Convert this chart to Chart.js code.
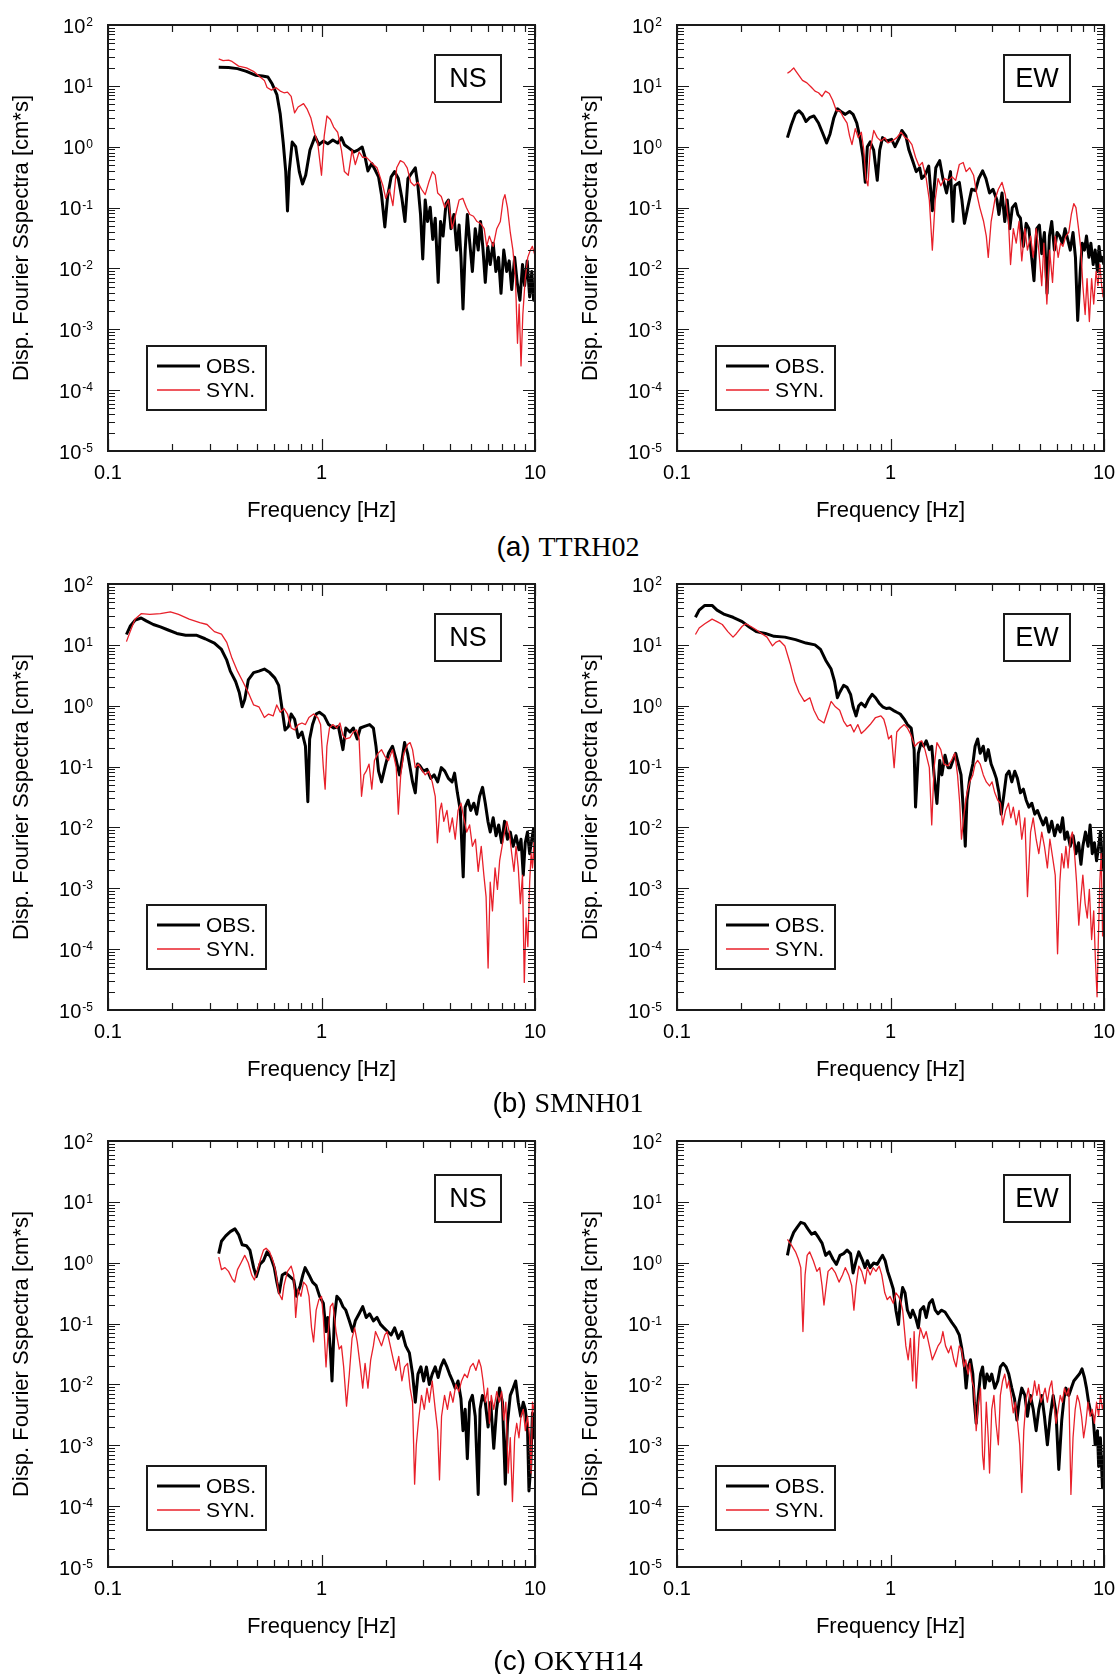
<!DOCTYPE html>
<html>
<head>
<meta charset="utf-8">
<script src="https://cdn.jsdelivr.net/npm/chart.js@4.4.1/dist/chart.umd.min.js"></script>
<style>
  html, body { margin: 0; background: #fff; }
  body { width: 1117px; height: 1674px; position: relative; overflow: hidden; }
  canvas { position: absolute; }
  .cap { position: absolute; left: 0; width: 1136px; text-align: center; font-size: 28px; line-height: 32px; color: #000; white-space: pre; }
  .cap .lbl { font-family: "Liberation Sans", Arial, sans-serif; }
  .cap .stn { font-family: "Liberation Serif", "Times New Roman", serif; }
</style>
</head>
<body>
<script>
// axis ticks and labels
const xTickValues = [0.1, 1, 10];
const xTickLabels = ['0.1', '1', '10'];
const yTickValues = [1e-5, 1e-4, 1e-3, 1e-2, 1e-1, 1, 10, 100];
const yTickBase = '10';
const yTickExponents = ['-5', '-4', '-3', '-2', '-1', '0', '1', '2'];
const stations = ['TTRH02', 'SMNH01', 'OKYH14'];
const captionTags = ['(a)', '(b)', '(c)'];
const components = ['NS', 'EW'];
const seriesNames = ['OBS.', 'SYN.'];

// [frequency Hz, amplitude cm*s]
const ttrh02NsObs = [[0.33,20.3],[0.367,20],[0.404,19.2],[0.445,17.3],[0.49,15],[0.529,14.5],[0.561,14],[0.588,10.7],[0.618,7.2],[0.641,3.4],[0.662,1.15],[0.68,0.39],[0.693,0.088],[0.706,0.39],[0.729,1.19],[0.757,1.0],[0.787,0.39],[0.815,0.244],[0.843,0.34],[0.883,0.88],[0.933,1.47],[0.973,1.08],[1.02,1.24],[1.07,1.12],[1.13,1.29],[1.19,1.15],[1.24,1.41],[1.28,1.08],[1.35,0.94],[1.42,0.82],[1.48,0.88],[1.55,0.99],[1.6,0.67],[1.65,0.4],[1.72,0.53],[1.78,0.42],[1.85,0.32],[1.91,0.163],[1.98,0.048],[2.04,0.152],[2.12,0.32],[2.2,0.39],[2.29,0.3],[2.38,0.142],[2.46,0.059],[2.54,0.3],[2.64,0.366],[2.75,0.45],[2.83,0.228],[2.91,0.077],[2.98,0.0143],[3.06,0.133],[3.14,0.059],[3.23,0.101],[3.32,0.03],[3.41,0.067],[3.52,0.0059],[3.61,0.059],[3.71,0.034],[3.83,0.116],[3.93,0.133],[4.04,0.045],[4.17,0.077],[4.3,0.02],[4.41,0.0515],[4.5,0.0152],[4.6,0.00215],[4.71,0.02],[4.82,0.077],[4.95,0.026],[5.09,0.0089],[5.25,0.045],[5.42,0.02],[5.56,0.059],[5.71,0.02],[5.85,0.0059],[6.01,0.023],[6.17,0.0116],[6.37,0.026],[6.56,0.0089],[6.75,0.0152],[6.93,0.0039],[7.14,0.02],[7.37,0.0089],[7.57,0.0133],[7.78,0.0045],[8.03,0.0152],[8.25,0.0059],[8.5,0.003],[8.74,0.0116],[8.94,0.0052],[9.19,0.0133],[9.44,0.0034],[9.66,0.0089],[9.85,0.003],[10,0.0059]];
const ttrh02NsSyn = [[0.33,27.7],[0.346,25.9],[0.367,26.5],[0.381,25.2],[0.409,21.1],[0.445,19.7],[0.48,17.3],[0.508,14.7],[0.54,12.3],[0.556,9.4],[0.583,8.5],[0.611,9.4],[0.641,8.2],[0.667,7.7],[0.693,7.9],[0.721,6.7],[0.748,3.6],[0.777,4.5],[0.824,5.1],[0.855,4.2],[0.891,3.0],[0.925,1.73],[0.96,1.15],[1.0,0.34],[1.03,1.51],[1.06,3.2],[1.1,2.8],[1.14,2.1],[1.19,1.73],[1.24,0.88],[1.28,0.39],[1.335,0.34],[1.39,0.88],[1.44,0.51],[1.5,0.82],[1.56,0.67],[1.62,0.67],[1.68,0.59],[1.75,0.51],[1.82,0.45],[1.89,0.3],[1.94,0.228],[2.0,0.142],[2.08,0.2],[2.16,0.108],[2.25,0.45],[2.34,0.59],[2.43,0.55],[2.52,0.45],[2.62,0.26],[2.72,0.228],[2.83,0.26],[2.94,0.2],[3.06,0.163],[3.18,0.26],[3.31,0.39],[3.41,0.34],[3.5,0.174],[3.64,0.152],[3.78,0.1],[3.93,0.133],[4.09,0.045],[4.25,0.077],[4.41,0.133],[4.59,0.142],[4.77,0.1],[4.95,0.077],[5.15,0.072],[5.35,0.059],[5.56,0.055],[5.78,0.045],[5.94,0.023],[6.11,0.034],[6.37,0.023],[6.62,0.045],[6.88,0.059],[7.09,0.133],[7.23,0.163],[7.43,0.1],[7.66,0.039],[7.88,0.02],[8.1,0.0068],[8.28,0.00059],[8.43,0.0026],[8.6,0.00025],[8.77,0.00175],[9.0,0.0068],[9.25,0.0152],[9.51,0.02],[9.72,0.023],[10,0.0163]];
const ttrh02EwObs = [[0.329,1.41],[0.343,2.27],[0.359,3.5],[0.373,3.9],[0.387,3.4],[0.402,2.6],[0.418,3.0],[0.438,3.2],[0.46,2.45],[0.483,1.62],[0.502,1.15],[0.521,1.62],[0.543,3.0],[0.564,4.2],[0.591,3.7],[0.614,3.4],[0.643,3.8],[0.668,3.4],[0.695,2.45],[0.722,1.32],[0.744,0.67],[0.762,0.26],[0.779,1.0],[0.803,1.2],[0.834,0.88],[0.867,0.28],[0.89,0.88],[0.918,1.41],[0.962,1.24],[1.012,1.32],[1.05,1.0],[1.1,1.41],[1.13,1.85],[1.18,1.51],[1.22,0.88],[1.27,0.59],[1.32,0.39],[1.37,0.45],[1.4,0.3],[1.45,0.34],[1.51,0.48],[1.57,0.089],[1.63,0.45],[1.7,0.59],[1.76,0.3],[1.83,0.174],[1.91,0.39],[1.96,0.059],[2.0,0.228],[2.1,0.26],[2.16,0.133],[2.22,0.055],[2.3,0.1],[2.4,0.2],[2.5,0.19],[2.59,0.3],[2.7,0.4],[2.8,0.3],[2.91,0.174],[3.02,0.2],[3.15,0.133],[3.22,0.077],[3.33,0.174],[3.43,0.059],[3.52,0.133],[3.62,0.045],[3.72,0.1],[3.85,0.116],[3.95,0.077],[4.06,0.067],[4.19,0.023],[4.32,0.055],[4.45,0.045],[4.55,0.02],[4.7,0.0063],[4.84,0.045],[4.98,0.0515],[5.11,0.0175],[5.26,0.039],[5.41,0.0039],[5.55,0.034],[5.69,0.059],[5.86,0.02],[6.03,0.039],[6.2,0.034],[6.38,0.026],[6.57,0.045],[6.76,0.03],[6.95,0.02],[7.16,0.039],[7.35,0.0152],[7.53,0.0014],[7.74,0.0089],[7.91,0.026],[8.1,0.02],[8.28,0.034],[8.5,0.0152],[8.68,0.026],[8.9,0.0116],[9.09,0.02],[9.32,0.0089],[9.48,0.023],[9.66,0.0133],[9.8,0.0152],[10,0.0116]];
const ttrh02EwSyn = [[0.329,16.1],[0.339,17.3],[0.352,19.7],[0.361,17.3],[0.373,14.7],[0.387,12.3],[0.406,11.2],[0.427,9.4],[0.443,8.2],[0.46,7.7],[0.478,6.7],[0.496,8.2],[0.517,7.5],[0.536,5.8],[0.558,3.9],[0.58,3.9],[0.603,3.0],[0.626,2.45],[0.643,1.51],[0.66,1.08],[0.684,1.98],[0.706,1.41],[0.73,1.73],[0.75,0.88],[0.767,0.3],[0.784,0.228],[0.803,0.88],[0.835,1.85],[0.867,1.41],[0.902,1.24],[0.94,1.41],[0.973,1.15],[1.02,1.24],[1.07,1.41],[1.12,1.73],[1.17,1.41],[1.21,1.32],[1.26,1.08],[1.31,0.67],[1.36,0.48],[1.41,0.55],[1.47,0.3],[1.52,0.133],[1.57,0.02],[1.62,0.133],[1.67,0.3],[1.72,0.228],[1.79,0.3],[1.87,0.28],[1.94,0.32],[2.02,0.28],[2.1,0.51],[2.19,0.55],[2.26,0.39],[2.35,0.45],[2.45,0.34],[2.53,0.174],[2.62,0.1],[2.73,0.059],[2.81,0.034],[2.87,0.0152],[2.96,0.059],[3.08,0.133],[3.2,0.2],[3.33,0.26],[3.45,0.163],[3.57,0.059],[3.65,0.0116],[3.76,0.045],[3.88,0.026],[4.0,0.059],[4.12,0.0133],[4.26,0.045],[4.38,0.02],[4.53,0.034],[4.66,0.0152],[4.81,0.045],[4.95,0.02],[5.11,0.0052],[5.23,0.026],[5.4,0.0026],[5.56,0.02],[5.74,0.0059],[5.91,0.034],[6.1,0.0152],[6.26,0.026],[6.42,0.023],[6.63,0.034],[6.84,0.039],[7.03,0.077],[7.22,0.116],[7.39,0.1],[7.6,0.045],[7.8,0.02],[7.96,0.0052],[8.16,0.00175],[8.33,0.0068],[8.54,0.00134],[8.75,0.0068],[8.95,0.0026],[9.18,0.0089],[9.37,0.0052],[9.56,0.0116],[9.75,0.0052],[9.9,0.0034],[10,0.0059]];

const smnh01NsObs = [[0.122,14.8],[0.127,20.2],[0.134,25.5],[0.143,27.6],[0.151,24.8],[0.163,21.6],[0.176,19.7],[0.19,17.7],[0.21,15.4],[0.231,14.4],[0.259,14.4],[0.285,12.6],[0.315,10.7],[0.34,8.4],[0.36,5.6],[0.374,3.7],[0.396,2.5],[0.412,1.65],[0.425,0.96],[0.437,1.26],[0.454,2.65],[0.481,3.5],[0.509,3.7],[0.54,4.0],[0.572,3.5],[0.605,2.84],[0.63,2.16],[0.655,0.84],[0.675,0.4],[0.7,0.456],[0.721,0.73],[0.748,0.6],[0.778,0.3],[0.81,0.37],[0.841,0.216],[0.863,0.0265],[0.88,0.284],[0.908,0.49],[0.944,0.73],[0.977,0.78],[1.03,0.68],[1.08,0.49],[1.14,0.43],[1.2,0.456],[1.26,0.19],[1.3,0.43],[1.36,0.37],[1.41,0.43],[1.47,0.284],[1.52,0.43],[1.59,0.456],[1.68,0.49],[1.75,0.43],[1.8,0.216],[1.85,0.084],[1.91,0.056],[1.99,0.103],[2.06,0.165],[2.15,0.216],[2.24,0.126],[2.32,0.073],[2.38,0.126],[2.45,0.248],[2.53,0.165],[2.6,0.096],[2.67,0.056],[2.75,0.037],[2.82,0.11],[2.89,0.103],[3.0,0.084],[3.12,0.09],[3.25,0.064],[3.37,0.073],[3.5,0.056],[3.64,0.096],[3.78,0.084],[3.93,0.064],[4.09,0.056],[4.2,0.078],[4.33,0.037],[4.47,0.019],[4.61,0.00154],[4.71,0.0216],[4.86,0.028],[5.0,0.019],[5.17,0.025],[5.33,0.0165],[5.5,0.0325],[5.68,0.0456],[5.85,0.025],[6.02,0.0126],[6.17,0.0084],[6.37,0.0144],[6.57,0.0073],[6.76,0.011],[6.98,0.0056],[7.2,0.0126],[7.43,0.0064],[7.66,0.0084],[7.9,0.0049],[8.15,0.0073],[8.41,0.0043],[8.6,0.0064],[8.81,0.00165],[9.0,0.0056],[9.22,0.0084],[9.44,0.0037],[9.66,0.0064],[9.85,0.0096],[10,0.0056]];
const smnh01NsSyn = [[0.122,11.3],[0.127,16.5],[0.134,26.5],[0.143,32.5],[0.157,31.6],[0.176,32.5],[0.196,34.8],[0.214,31.6],[0.24,26.5],[0.269,23.2],[0.291,21.6],[0.315,16.5],[0.34,15],[0.36,11],[0.381,6.0],[0.404,3.7],[0.428,2.5],[0.454,1.65],[0.481,1.03],[0.509,0.96],[0.54,0.64],[0.565,0.73],[0.594,0.68],[0.617,1.03],[0.641,0.78],[0.667,0.9],[0.693,0.73],[0.721,0.43],[0.748,0.4],[0.778,0.49],[0.81,0.52],[0.841,0.49],[0.873,0.64],[0.918,0.73],[0.96,0.64],[0.99,0.49],[1.02,0.096],[1.04,0.0426],[1.06,0.216],[1.09,0.43],[1.13,0.49],[1.18,0.43],[1.22,0.52],[1.26,0.325],[1.3,0.284],[1.36,0.3],[1.41,0.37],[1.46,0.4],[1.5,0.284],[1.54,0.0325],[1.58,0.073],[1.62,0.084],[1.67,0.11],[1.72,0.0426],[1.77,0.126],[1.84,0.165],[1.91,0.19],[1.99,0.144],[2.06,0.126],[2.15,0.19],[2.24,0.096],[2.29,0.0165],[2.35,0.073],[2.43,0.165],[2.53,0.23],[2.6,0.248],[2.67,0.19],[2.75,0.096],[2.84,0.11],[2.94,0.09],[3.06,0.073],[3.18,0.084],[3.3,0.056],[3.41,0.0325],[3.49,0.0056],[3.58,0.019],[3.65,0.025],[3.74,0.0126],[3.87,0.019],[3.98,0.0084],[4.1,0.0144],[4.23,0.0064],[4.36,0.019],[4.5,0.025],[4.64,0.0144],[4.79,0.0084],[4.94,0.011],[5.09,0.0049],[5.26,0.0064],[5.42,0.0019],[5.6,0.0049],[5.76,0.00165],[5.9,0.00073],[6.03,0.0000488],[6.17,0.00126],[6.32,0.000426],[6.5,0.00216],[6.67,0.00096],[6.83,0.00284],[7.01,0.0049],[7.2,0.0084],[7.38,0.0126],[7.58,0.0084],[7.78,0.0037],[7.97,0.0019],[8.15,0.0049],[8.35,0.00216],[8.54,0.00056],[8.74,0.00165],[8.91,0.0000284],[9.08,0.000325],[9.26,0.00011],[9.44,0.00126],[9.59,0.0037],[9.73,0.00216],[9.88,0.0056],[10,0.00144]];
const smnh01EwObs = [[0.122,28.4],[0.127,37.2],[0.135,44.4],[0.146,44.4],[0.154,37.2],[0.167,31.6],[0.183,28.4],[0.202,24.1],[0.218,19.7],[0.235,16.5],[0.259,15.4],[0.285,13.8],[0.32,13.4],[0.359,12.2],[0.402,10.7],[0.443,10],[0.47,8.4],[0.497,5.6],[0.527,4.0],[0.547,2.5],[0.564,1.35],[0.578,1.65],[0.603,2.16],[0.626,2.0],[0.65,1.54],[0.668,0.96],[0.69,0.68],[0.71,1.0],[0.73,1.1],[0.76,0.96],[0.789,1.26],[0.82,1.54],[0.851,1.35],[0.885,1.1],[0.919,0.96],[0.955,0.9],[0.99,0.92],[1.03,0.84],[1.07,0.78],[1.11,0.73],[1.16,0.6],[1.2,0.49],[1.25,0.43],[1.29,0.19],[1.31,0.0216],[1.35,0.165],[1.39,0.248],[1.43,0.216],[1.47,0.265],[1.52,0.19],[1.56,0.216],[1.6,0.073],[1.65,0.0248],[1.7,0.126],[1.74,0.073],[1.8,0.154],[1.86,0.096],[1.91,0.096],[1.96,0.126],[2.02,0.165],[2.08,0.11],[2.14,0.073],[2.2,0.0165],[2.24,0.0049],[2.28,0.028],[2.35,0.064],[2.43,0.11],[2.49,0.216],[2.56,0.284],[2.63,0.165],[2.72,0.216],[2.79,0.126],[2.87,0.19],[2.96,0.11],[3.05,0.084],[3.13,0.064],[3.22,0.037],[3.3,0.0165],[3.39,0.0325],[3.49,0.073],[3.59,0.084],[3.7,0.056],[3.82,0.084],[3.93,0.064],[4.06,0.037],[4.19,0.0426],[4.32,0.028],[4.45,0.0216],[4.59,0.025],[4.74,0.0165],[4.88,0.019],[5.03,0.0144],[5.19,0.011],[5.35,0.0144],[5.52,0.0084],[5.69,0.0126],[5.87,0.0073],[6.06,0.011],[6.24,0.0084],[6.4,0.0144],[6.56,0.0064],[6.73,0.0084],[6.95,0.0049],[7.17,0.0073],[7.39,0.0037],[7.6,0.0056],[7.8,0.00248],[7.96,0.0049],[8.19,0.0084],[8.42,0.0049],[8.61,0.011],[8.81,0.0037],[9.02,0.0056],[9.23,0.00284],[9.44,0.0049],[9.62,0.0084],[9.8,0.00325],[10,0.0019]];
const smnh01EwSyn = [[0.122,14.8],[0.127,18.9],[0.135,22.2],[0.146,26.5],[0.154,24.1],[0.163,21.6],[0.173,16.5],[0.183,13.4],[0.19,15.4],[0.202,20.2],[0.21,22.2],[0.221,20.2],[0.235,17.7],[0.249,15.4],[0.264,13.4],[0.28,9.6],[0.29,11],[0.302,11.8],[0.32,9.6],[0.339,4.9],[0.356,2.5],[0.373,1.65],[0.395,1.18],[0.419,1.35],[0.438,0.84],[0.46,0.6],[0.488,0.52],[0.507,0.78],[0.527,1.18],[0.552,0.96],[0.578,0.84],[0.603,0.56],[0.626,0.456],[0.65,0.49],[0.674,0.37],[0.703,0.49],[0.73,0.35],[0.76,0.4],[0.803,0.49],[0.851,0.64],[0.902,0.68],[0.93,0.6],[0.955,0.43],[0.979,0.284],[1.01,0.325],[1.04,0.096],[1.07,0.37],[1.11,0.43],[1.16,0.49],[1.2,0.43],[1.25,0.325],[1.3,0.216],[1.35,0.248],[1.4,0.265],[1.45,0.19],[1.52,0.096],[1.56,0.011],[1.6,0.096],[1.65,0.248],[1.72,0.19],[1.78,0.11],[1.86,0.103],[1.93,0.126],[2.0,0.165],[2.06,0.073],[2.11,0.025],[2.15,0.0064],[2.22,0.019],[2.28,0.037],[2.35,0.056],[2.43,0.073],[2.49,0.11],[2.56,0.126],[2.63,0.11],[2.72,0.073],[2.81,0.056],[2.91,0.048],[2.99,0.056],[3.08,0.037],[3.18,0.028],[3.27,0.025],[3.35,0.011],[3.46,0.019],[3.57,0.025],[3.66,0.0144],[3.76,0.0216],[3.88,0.011],[4.0,0.019],[4.12,0.0064],[4.26,0.0144],[4.38,0.00073],[4.53,0.0084],[4.66,0.0144],[4.81,0.0064],[4.95,0.0037],[5.11,0.0084],[5.26,0.0049],[5.43,0.00216],[5.58,0.0064],[5.74,0.0033],[5.91,0.00165],[6.06,0.000084],[6.21,0.00126],[6.34,0.0037],[6.49,0.00216],[6.63,0.0049],[6.79,0.00216],[6.95,0.0064],[7.11,0.0084],[7.28,0.0037],[7.44,0.00126],[7.62,0.000248],[7.8,0.00073],[7.96,0.00165],[8.16,0.00056],[8.35,0.000325],[8.54,0.00096],[8.75,0.000144],[8.95,0.000426],[9.12,0.000064],[9.28,0.0000165],[9.41,0.000144],[9.56,0.00126],[9.7,0.0037],[9.85,0.000165],[10,0.00056]];

const okyh14NsObs = [[0.33,1.41],[0.34,2.25],[0.356,2.76],[0.374,3.24],[0.393,3.6],[0.409,2.9],[0.425,1.97],[0.445,1.9],[0.462,1.61],[0.481,0.83],[0.495,0.59],[0.515,0.95],[0.535,1.08],[0.556,1.51],[0.578,1.24],[0.601,0.83],[0.618,0.48],[0.634,0.32],[0.655,0.63],[0.68,0.68],[0.712,0.59],[0.741,0.52],[0.764,0.28],[0.795,0.42],[0.818,0.63],[0.838,0.83],[0.874,0.63],[0.908,0.48],[0.944,0.42],[0.98,0.28],[1.02,0.216],[1.05,0.074],[1.07,0.126],[1.1,0.038],[1.12,0.0114],[1.15,0.126],[1.18,0.28],[1.22,0.247],[1.26,0.19],[1.3,0.166],[1.35,0.111],[1.4,0.074],[1.44,0.111],[1.5,0.145],[1.56,0.19],[1.62,0.126],[1.68,0.145],[1.75,0.111],[1.82,0.126],[1.89,0.097],[1.96,0.085],[2.04,0.074],[2.12,0.065],[2.2,0.085],[2.29,0.057],[2.38,0.074],[2.48,0.043],[2.58,0.033],[2.67,0.0148],[2.75,0.0051],[2.83,0.0148],[2.92,0.0194],[3.01,0.0114],[3.1,0.0194],[3.2,0.01],[3.3,0.0148],[3.41,0.0194],[3.52,0.013],[3.62,0.0194],[3.74,0.0254],[3.87,0.0194],[3.98,0.0148],[4.11,0.0114],[4.23,0.0087],[4.36,0.0114],[4.5,0.0058],[4.6,0.00174],[4.71,0.0039],[4.82,0.0006],[4.94,0.0051],[5.09,0.0066],[5.25,0.003],[5.42,0.000156],[5.53,0.0039],[5.67,0.0066],[5.85,0.0051],[6.03,0.002],[6.2,0.0051],[6.41,0.00089],[6.61,0.0039],[6.82,0.0087],[7.04,0.0051],[7.26,0.00023],[7.43,0.0023],[7.66,0.0066],[7.9,0.0087],[8.12,0.0114],[8.35,0.0051],[8.57,0.003],[8.81,0.0051],[9.01,0.0039],[9.23,0.00174],[9.37,0.000178],[9.55,0.00045],[9.73,0.0034],[9.88,0.00133],[10,0.00174]];
const okyh14NsSyn = [[0.33,1.24],[0.34,0.77],[0.353,0.83],[0.367,0.72],[0.381,0.55],[0.392,0.48],[0.404,0.77],[0.42,1.0],[0.437,1.32],[0.454,1.0],[0.471,0.63],[0.485,0.52],[0.5,0.72],[0.519,1.16],[0.535,1.61],[0.55,1.73],[0.571,1.51],[0.594,1.05],[0.61,0.72],[0.63,0.32],[0.654,0.247],[0.667,0.42],[0.693,0.72],[0.721,0.88],[0.741,0.63],[0.757,0.126],[0.777,0.37],[0.801,0.28],[0.824,0.48],[0.851,0.42],[0.874,0.28],[0.898,0.085],[0.918,0.05],[0.944,0.166],[0.972,0.247],[1.0,0.28],[1.02,0.126],[1.05,0.0194],[1.07,0.057],[1.1,0.19],[1.13,0.216],[1.17,0.074],[1.21,0.038],[1.24,0.043],[1.27,0.0194],[1.31,0.0044],[1.35,0.0148],[1.39,0.057],[1.43,0.085],[1.47,0.05],[1.52,0.0194],[1.56,0.0087],[1.6,0.0222],[1.65,0.0087],[1.7,0.0254],[1.75,0.043],[1.79,0.074],[1.85,0.057],[1.91,0.043],[1.98,0.065],[2.03,0.074],[2.1,0.043],[2.17,0.0254],[2.23,0.017],[2.3,0.029],[2.38,0.0114],[2.45,0.0194],[2.53,0.0222],[2.6,0.0087],[2.67,0.0051],[2.73,0.00023],[2.78,0.00102],[2.85,0.0026],[2.94,0.0066],[3.03,0.0039],[3.12,0.0087],[3.2,0.0051],[3.3,0.0114],[3.41,0.0039],[3.5,0.00174],[3.57,0.00027],[3.65,0.003],[3.77,0.0066],[3.89,0.0039],[4.01,0.0076],[4.13,0.0051],[4.26,0.01],[4.4,0.0076],[4.53,0.0114],[4.68,0.0148],[4.82,0.013],[4.98,0.0194],[5.13,0.0222],[5.29,0.017],[5.46,0.0254],[5.59,0.0194],[5.71,0.0114],[5.85,0.0051],[6.0,0.0087],[6.12,0.0023],[6.24,0.0066],[6.41,0.0039],[6.62,0.0076],[6.8,0.0051],[6.98,0.0076],[7.14,0.0026],[7.3,0.0051],[7.49,0.00035],[7.66,0.00133],[7.84,0.000119],[8.03,0.00133],[8.21,0.0023],[8.41,0.00133],[8.6,0.003],[8.81,0.0039],[9.01,0.00174],[9.23,0.003],[9.44,0.00133],[9.59,0.00035],[9.73,0.0051],[9.88,0.0039],[10,0.003]];
const okyh14EwObs = [[0.329,1.32],[0.339,2.25],[0.352,3.15],[0.366,3.85],[0.38,4.6],[0.395,4.4],[0.41,3.6],[0.427,2.95],[0.443,3.15],[0.46,2.6],[0.478,2.1],[0.497,1.32],[0.517,1.51],[0.537,1.15],[0.558,0.94],[0.58,1.32],[0.603,1.41],[0.626,1.61],[0.65,1.41],[0.668,0.68],[0.69,1.08],[0.71,1.51],[0.74,1.08],[0.76,0.83],[0.779,1.08],[0.803,0.83],[0.834,0.99],[0.867,0.94],[0.895,1.15],[0.918,1.32],[0.944,1.08],[0.97,0.72],[1.0,0.52],[1.03,0.37],[1.06,0.166],[1.09,0.097],[1.11,0.216],[1.14,0.39],[1.17,0.32],[1.2,0.166],[1.24,0.126],[1.27,0.166],[1.31,0.126],[1.35,0.085],[1.38,0.166],[1.43,0.19],[1.47,0.126],[1.52,0.216],[1.57,0.247],[1.62,0.166],[1.67,0.145],[1.73,0.166],[1.8,0.155],[1.87,0.126],[1.94,0.1035],[2.02,0.085],[2.1,0.065],[2.16,0.038],[2.22,0.0194],[2.26,0.0087],[2.31,0.0194],[2.37,0.0254],[2.43,0.0148],[2.47,0.0051],[2.52,0.0023],[2.58,0.0066],[2.64,0.0148],[2.7,0.0194],[2.76,0.0087],[2.83,0.0148],[2.91,0.0114],[2.98,0.0148],[3.08,0.0087],[3.18,0.0114],[3.27,0.0194],[3.37,0.0222],[3.48,0.0194],[3.58,0.0148],[3.7,0.0087],[3.81,0.0058],[3.91,0.0026],[4.0,0.0051],[4.12,0.0087],[4.26,0.0066],[4.38,0.003],[4.52,0.0066],[4.66,0.0039],[4.81,0.00174],[4.95,0.0039],[5.11,0.0066],[5.26,0.003],[5.43,0.00102],[5.6,0.003],[5.78,0.0066],[5.96,0.0034],[6.14,0.0004],[6.34,0.0026],[6.49,0.0058],[6.63,0.0087],[6.84,0.0066],[7.03,0.0087],[7.22,0.0114],[7.44,0.013],[7.67,0.0148],[7.89,0.018],[8.1,0.013],[8.28,0.0087],[8.47,0.0051],[8.68,0.0034],[8.89,0.003],[9.09,0.00102],[9.32,0.00174],[9.44,0.00045],[9.62,0.00133],[9.84,0.0002],[10,0.00068]];
const okyh14EwSyn = [[0.329,2.41],[0.343,1.97],[0.359,1.51],[0.37,1.15],[0.38,0.83],[0.389,0.074],[0.398,0.63],[0.407,1.32],[0.418,1.51],[0.435,1.08],[0.452,0.72],[0.466,0.83],[0.478,0.42],[0.488,0.202],[0.498,0.37],[0.51,0.72],[0.531,0.83],[0.552,0.68],[0.574,0.48],[0.596,0.63],[0.614,0.83],[0.637,0.63],[0.658,0.42],[0.674,0.166],[0.69,0.42],[0.71,0.88],[0.733,0.72],[0.76,0.45],[0.779,0.83],[0.803,0.63],[0.829,0.83],[0.855,0.72],[0.885,0.88],[0.91,0.63],[0.94,0.32],[0.966,0.247],[0.995,0.28],[1.03,0.216],[1.06,0.32],[1.09,0.28],[1.11,0.247],[1.14,0.166],[1.16,0.085],[1.18,0.043],[1.21,0.0254],[1.24,0.057],[1.27,0.0114],[1.29,0.074],[1.32,0.0087],[1.36,0.057],[1.38,0.085],[1.43,0.057],[1.47,0.074],[1.52,0.043],[1.57,0.0254],[1.62,0.033],[1.67,0.043],[1.72,0.05],[1.76,0.074],[1.81,0.043],[1.87,0.033],[1.92,0.043],[1.98,0.0254],[2.03,0.0194],[2.1,0.043],[2.15,0.038],[2.21,0.0194],[2.25,0.0254],[2.31,0.0148],[2.35,0.0222],[2.41,0.0114],[2.46,0.0087],[2.52,0.00174],[2.58,0.0051],[2.64,0.0087],[2.7,0.00068],[2.74,0.0004],[2.81,0.0051],[2.87,0.00133],[2.91,0.00035],[2.98,0.0039],[3.05,0.0066],[3.12,0.0023],[3.2,0.00102],[3.27,0.0066],[3.35,0.0114],[3.43,0.0148],[3.51,0.0087],[3.58,0.0114],[3.67,0.0066],[3.76,0.0034],[3.84,0.0051],[3.94,0.0023],[4.03,0.00102],[4.12,0.000167],[4.21,0.00174],[4.32,0.0058],[4.42,0.0087],[4.53,0.0051],[4.63,0.0066],[4.73,0.0114],[4.85,0.0066],[4.95,0.01],[5.07,0.0051],[5.19,0.0066],[5.3,0.0087],[5.43,0.0051],[5.56,0.0087],[5.69,0.0114],[5.82,0.0051],[5.96,0.0023],[6.1,0.0039],[6.24,0.0066],[6.38,0.0051],[6.53,0.0087],[6.68,0.0066],[6.84,0.0087],[7.0,0.000156],[7.16,0.00133],[7.33,0.0039],[7.5,0.0066],[7.67,0.0051],[7.85,0.003],[8.03,0.00133],[8.22,0.0023],[8.41,0.0051],[8.61,0.003],[8.81,0.0039],[9.02,0.0023],[9.23,0.0051],[9.44,0.003],[9.62,0.0066],[9.84,0.0039],[10,0.0051]];

const FONT = '"Liberation Sans", Arial, Helvetica, sans-serif';
const RED = '#e8202a';

// frame with inward ticks on all four sides, power-of-ten labels, component tag, legend box
const framePlugin = {
  id: 'frame',
  afterDatasetsDraw(chart, args, opts) {
    const { ctx, chartArea: a, scales: { x, y } } = chart;
    ctx.save();
    ctx.strokeStyle = '#1a1a1a';
    ctx.lineWidth = 1.2;
    ctx.beginPath();
    for (let e = -1; e <= 1; e++) {
      for (let m = 1; m <= 9; m++) {
        const v = m * Math.pow(10, e);
        if (v > 10.001) continue;
        const px = Math.round(x.getPixelForValue(v)) + 0.5;
        const len = m === 1 ? 12 : 7;
        ctx.moveTo(px, a.bottom); ctx.lineTo(px, a.bottom - len);
        ctx.moveTo(px, a.top); ctx.lineTo(px, a.top + len);
      }
    }
    for (let e = -5; e <= 2; e++) {
      for (let m = 1; m <= 9; m++) {
        const v = m * Math.pow(10, e);
        if (v > 100.01) continue;
        const py = Math.round(y.getPixelForValue(v)) + 0.5;
        const len = m === 1 ? 12 : 7;
        ctx.moveTo(a.left, py); ctx.lineTo(a.left + len, py);
        ctx.moveTo(a.right, py); ctx.lineTo(a.right - len, py);
      }
    }
    ctx.stroke();
    ctx.lineWidth = 2;
    ctx.strokeRect(a.left, a.top, a.right - a.left, a.bottom - a.top);

    // y tick labels as 10 with a raised exponent
    ctx.fillStyle = '#000';
    ctx.textBaseline = 'alphabetic';
    ctx.textAlign = 'left';
    yTickValues.forEach((v, i) => {
      const py = y.getPixelForValue(v);
      ctx.font = '20px ' + FONT;
      const wb = ctx.measureText(yTickBase).width;
      ctx.font = '12px ' + FONT;
      const we = ctx.measureText(yTickExponents[i]).width;
      const x0 = a.left - 15 - we - 1 - wb;
      ctx.font = '20px ' + FONT;
      ctx.fillText(yTickBase, x0, py + 7.5);
      ctx.font = '12px ' + FONT;
      ctx.fillText(yTickExponents[i], x0 + wb + 1, py + 1);
    });

    // component tag (NS / EW)
    ctx.strokeStyle = '#1a1a1a';
    ctx.lineWidth = 2;
    const tx = a.right - 34 - 66, ty = a.top + 30 + opts.dy;
    ctx.fillStyle = '#fff';
    ctx.fillRect(tx, ty, 66, 47);
    ctx.strokeRect(tx, ty, 66, 47);
    ctx.fillStyle = '#000';
    ctx.font = '27px ' + FONT;
    ctx.textAlign = 'center';
    ctx.textBaseline = 'middle';
    ctx.fillText(opts.comp, tx + 33, ty + 25);

    // legend
    const lx = a.left + 39, ly = a.top + 321 + opts.dy;
    ctx.fillStyle = '#fff';
    ctx.fillRect(lx, ly, 119, 64);
    ctx.strokeRect(lx, ly, 119, 64);
    ctx.font = '21px ' + FONT;
    ctx.textAlign = 'left';
    chart.data.datasets.forEach((ds, i) => {
      const ry = ly + 20 + i * 24;
      ctx.strokeStyle = ds.borderColor;
      ctx.lineWidth = ds.borderWidth;
      ctx.beginPath();
      ctx.moveTo(lx + 10, ry); ctx.lineTo(lx + 53, ry);
      ctx.stroke();
      ctx.fillStyle = '#000';
      ctx.fillText(ds.label, lx + 59, ry + 1);
    });
    ctx.restore();
  }
};

function toPoints(arr) {
  return arr.map(p => ({ x: p[0], y: p[1] }));
}

function makePanel(left, top, comp, obs, syn, dy) {
  const canvas = document.createElement('canvas');
  canvas.width = 548;
  canvas.height = 530;
  canvas.style.left = left + 'px';
  canvas.style.top = top + 'px';
  document.body.appendChild(canvas);

  new Chart(canvas, {
    type: 'line',
    data: {
      datasets: [
        { label: seriesNames[0], data: toPoints(obs), borderColor: '#000', borderWidth: 3, order: 1 },
        { label: seriesNames[1], data: toPoints(syn), borderColor: RED, borderWidth: 1.3, order: 0 }
      ]
    },
    options: {
      responsive: false,
      animation: false,
      devicePixelRatio: 1,
      parsing: false,
      elements: {
        point: { radius: 0 },
        line: { tension: 0, borderJoinStyle: 'round', fill: false }
      },
      layout: { padding: { left: 0, right: 13, top: 25, bottom: 0 } },
      plugins: {
        legend: { display: false },
        tooltip: { enabled: false },
        frame: { comp: comp, dy: dy }
      },
      scales: {
        x: {
          type: 'logarithmic',
          min: 0.1,
          max: 10,
          afterBuildTicks: s => { s.ticks = xTickValues.map(v => ({ value: v })); },
          afterFit: s => { s.height = 79; s.paddingLeft = 0; s.paddingRight = 0; },
          grid: { display: false, drawTicks: false },
          border: { display: false },
          ticks: {
            color: '#000',
            font: { family: FONT, size: 20 },
            padding: 10,
            maxRotation: 0,
            autoSkip: false,
            callback: (v, i) => xTickLabels[i]
          },
          title: {
            display: true,
            text: 'Frequency [Hz]',
            color: '#000',
            font: { family: FONT, size: 22 },
            padding: { top: 0, bottom: 6 }
          }
        },
        y: {
          type: 'logarithmic',
          min: 1e-5,
          max: 100,
          afterBuildTicks: s => { s.ticks = yTickValues.map(v => ({ value: v })); },
          afterFit: s => { s.width = 108; s.paddingTop = 0; s.paddingBottom = 0; },
          grid: { display: false, drawTicks: false },
          border: { display: false },
          ticks: { display: false },
          title: {
            display: true,
            text: 'Disp. Fourier Sspectra [cm*s]',
            color: '#000',
            font: { family: FONT, size: 22 },
            padding: { top: 9, bottom: 0 }
          }
        }
      }
    },
    plugins: [framePlugin]
  });
}

const rowTops = [0, 559, 1116];
const colLefts = [0, 569];
const captionTops = [531, 1087, 1645];
const rowShift = [0, 0, 4];
const panelData = [
  [ttrh02NsObs, ttrh02NsSyn, ttrh02EwObs, ttrh02EwSyn],
  [smnh01NsObs, smnh01NsSyn, smnh01EwObs, smnh01EwSyn],
  [okyh14NsObs, okyh14NsSyn, okyh14EwObs, okyh14EwSyn]
];

panelData.forEach((d, r) => {
  makePanel(colLefts[0], rowTops[r], components[0], d[0], d[1], rowShift[r]);
  makePanel(colLefts[1], rowTops[r], components[1], d[2], d[3], rowShift[r]);
  const cap = document.createElement('div');
  cap.className = 'cap';
  cap.style.top = captionTops[r] + 'px';
  cap.innerHTML = '<span class="lbl">' + captionTags[r] + ' </span><span class="stn">' + stations[r] + '</span>';
  document.body.appendChild(cap);
});
</script>
</body>
</html>
